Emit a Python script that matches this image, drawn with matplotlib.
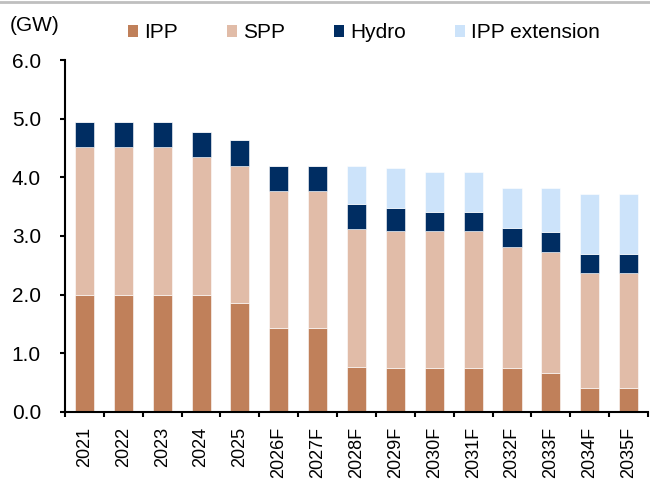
import numpy as np
import matplotlib.pyplot as plt
from matplotlib.lines import Line2D
from matplotlib.patches import Patch

plt.rcParams['font.family'] = ['Liberation Sans', 'DejaVu Sans']

years = ['2021', '2022', '2023', '2024', '2025', '2026F', '2027F', '2028F',
         '2029F', '2030F', '2031F', '2032F', '2033F', '2034F', '2035F']
ipp = [2.00, 2.00, 2.00, 2.00, 1.86, 1.43, 1.43, 0.77, 0.75, 0.75, 0.75, 0.75, 0.66, 0.41, 0.41]
spp = [2.51, 2.51, 2.51, 2.34, 2.34, 2.34, 2.34, 2.34, 2.34, 2.34, 2.34, 2.07, 2.07, 1.95, 1.95]
hydro = [0.43, 0.43, 0.43, 0.43, 0.43, 0.43, 0.43, 0.43, 0.39, 0.32, 0.32, 0.32, 0.33, 0.33, 0.33]
ipp_ext = [0, 0, 0, 0, 0, 0, 0, 0.66, 0.68, 0.68, 0.68, 0.68, 0.76, 1.03, 1.03]

colors = {'IPP': '#C0805A', 'SPP': '#E1BCA8', 'Hydro': '#002D62', 'IPP extension': '#CCE3FA'}

fig = plt.figure(figsize=(6.5, 4.84), dpi=100)
ax = fig.add_axes([0.1, 0.149, 0.897, 0.727])

x = np.arange(len(years))
w = 0.49
bottom = np.zeros(len(years))
for name, vals in [('IPP', ipp), ('SPP', spp), ('Hydro', hydro), ('IPP extension', ipp_ext)]:
    vals = np.array(vals)
    ax.bar(x, vals, w, bottom=bottom, color=colors[name], edgecolor='white', linewidth=0.4)
    bottom += vals

ax.set_xlim(-0.5, len(years) - 0.5)
ax.set_ylim(0, 6)
ax.set_yticks(np.arange(0, 6.5, 1.0))
ax.set_yticklabels([f'{v:.1f}' for v in np.arange(0, 6.5, 1.0)], fontsize=15)
ax.set_xticks(x)
ax.set_xticklabels(years, rotation=90, fontsize=13)
ax.tick_params(axis='x', length=0, pad=11)
ax.set_xticks(np.arange(-0.5, len(years)), minor=True)
ax.tick_params(axis='x', which='minor', length=3.8, width=1.5, direction='out')
ax.tick_params(axis='y', length=3.8, width=1.5, direction='out', pad=13.5)
for s in ['top', 'right']:
    ax.spines[s].set_visible(False)
for s in ['left', 'bottom']:
    ax.spines[s].set_linewidth(1.5)

fig.text(0.015, 0.948, '(GW)', fontsize=15, va='center', ha='left')

handles = [Patch(facecolor=c, label=n) for n, c in colors.items()]
fig.legend(handles=handles, loc='center left', bbox_to_anchor=(0.197, 0.932), ncol=4,
           frameon=False, fontsize=15, handlelength=0.48, handleheight=0.48,
           handletextpad=0.29, columnspacing=2.35, borderaxespad=0, borderpad=0)

fig.add_artist(Line2D([0, 1], [0.995, 0.995], color='#BFBFBF', linewidth=2, transform=fig.transFigure))

fig.savefig('out.png', dpi=100)
